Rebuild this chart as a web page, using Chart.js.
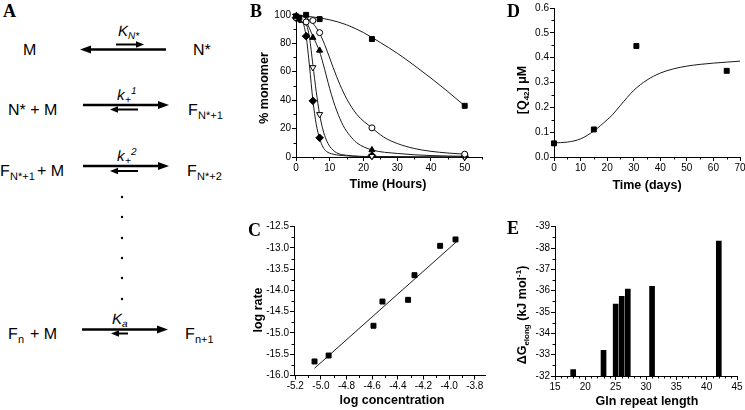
<!DOCTYPE html>
<html><head><meta charset="utf-8">
<script src="https://cdn.jsdelivr.net/npm/chart.js@4/dist/chart.umd.min.js"></script>
<style>
html,body{margin:0;padding:0;background:#fff;}
#root{position:relative;width:745px;height:410px;overflow:hidden;background:#fff;font-family:"Liberation Sans",Arial,sans-serif;}
canvas{position:absolute;}
.ttl{position:absolute;font-weight:bold;font-size:12.5px;white-space:nowrap;transform:translate(-50%,-50%);color:#000;line-height:1;z-index:5;}
.rot{transform:translate(-50%,-50%) rotate(-90deg);}
.ttl sub{font-size:8px;vertical-align:-3px;line-height:0;}
.ttl sup{font-size:8px;vertical-align:5px;line-height:0;}
.lbl{position:absolute;font-family:"Liberation Serif","Times New Roman",serif;font-weight:bold;font-size:18px;line-height:1;z-index:5;color:#000;}
svg{position:absolute;left:0;top:0;}
svg text{fill:#000;}
</style></head>
<body><div id="root">
<svg width="240" height="410" viewBox="0 0 240 410" font-family="Liberation Sans, Arial, sans-serif" fill="#000" text-rendering="geometricPrecision">
  <!-- row 1 -->
  <text x="23" y="55" font-size="16">M</text>
  <text x="193" y="55" font-size="16">N*</text>
  <line x1="88" y1="49.5" x2="166" y2="49.5" stroke="#000" stroke-width="2.5"/>
  <polygon points="80,49.5 91,45.5 91,53.5"/>
  <line x1="116" y1="44.5" x2="137" y2="44.5" stroke="#000" stroke-width="2"/>
  <polygon points="144,44.5 136,41.3 136,47.7"/>
  <text x="118" y="36" font-size="15" font-style="italic">K</text>
  <text x="128" y="39" font-size="10" font-style="italic">N*</text>
  <!-- row 2 -->
  <text x="8" y="115" font-size="16">N* + M</text>
  <line x1="83" y1="105" x2="161" y2="105" stroke="#000" stroke-width="2.5"/>
  <polygon points="169,105 158,101 158,109"/>
  <line x1="117" y1="109.5" x2="138" y2="109.5" stroke="#000" stroke-width="2"/>
  <polygon points="110,109.5 118,106.3 118,112.7"/>
  <text x="117" y="100" font-size="15" font-style="italic">k</text>
  <text x="125" y="103" font-size="10" font-style="italic">+</text>
  <text x="131" y="94" font-size="10" font-style="italic">1</text>
  <text x="188" y="115" font-size="16">F</text>
  <text x="198" y="119" font-size="11">N*+1</text>
  <!-- row 3 -->
  <text x="0" y="176" font-size="16">F</text>
  <text x="10" y="180" font-size="11">N*+1</text>
  <text x="37" y="176" font-size="16">+ M</text>
  <line x1="83" y1="166" x2="161" y2="166" stroke="#000" stroke-width="2.5"/>
  <polygon points="169,166 158,162 158,170"/>
  <line x1="117" y1="171" x2="138" y2="171" stroke="#000" stroke-width="2"/>
  <polygon points="110,171 118,167.8 118,174.2"/>
  <text x="117" y="161" font-size="15" font-style="italic">k</text>
  <text x="125" y="164" font-size="10" font-style="italic">+</text>
  <text x="131" y="155" font-size="10" font-style="italic">2</text>
  <text x="187" y="176" font-size="16">F</text>
  <text x="197" y="180" font-size="11">N*+2</text>
  <!-- dots -->
  <circle cx="122" cy="197" r="1.2"/>
  <circle cx="122" cy="217" r="1.2"/>
  <circle cx="122" cy="238" r="1.2"/>
  <circle cx="122" cy="258" r="1.2"/>
  <circle cx="122" cy="278" r="1.2"/>
  <circle cx="122" cy="299" r="1.2"/>
  <!-- row 4 -->
  <text x="8" y="339" font-size="16">F</text>
  <text x="18" y="343" font-size="11">n</text>
  <text x="30" y="339" font-size="16">+ M</text>
  <line x1="82" y1="329.5" x2="160" y2="329.5" stroke="#000" stroke-width="2.5"/>
  <polygon points="168,329.5 157,325.5 157,333.5"/>
  <line x1="118" y1="333.5" x2="128" y2="333.5" stroke="#000" stroke-width="2"/>
  <polygon points="111,333.5 119,330.3 119,336.7"/>
  <text x="112" y="324" font-size="15" font-style="italic">K</text>
  <text x="122" y="327" font-size="10" font-style="italic">a</text>
  <text x="185" y="339" font-size="16">F</text>
  <text x="195" y="343" font-size="11">n+1</text>
</svg>
<div class="lbl" style="left:3px;top:2px;">A</div>
<div class="lbl" style="left:250px;top:2px;">B</div>
<div class="lbl" style="left:507px;top:2px;">D</div>
<div class="lbl" style="left:248px;top:221px;">C</div>
<div class="lbl" style="left:507px;top:219px;">E</div>

<canvas id="cB" width="250" height="200" style="left:240px;top:0px;"></canvas>
<canvas id="cD" width="255" height="200" style="left:490px;top:0px;"></canvas>
<canvas id="cC" width="250" height="210" style="left:240px;top:200px;"></canvas>
<canvas id="cE" width="255" height="210" style="left:490px;top:200px;"></canvas>

<div class="ttl" style="left:388px;top:184px;">Time (Hours)</div>
<div class="ttl rot" style="left:264px;top:88px;">% monomer</div>
<div class="ttl" style="left:647px;top:185px;">Time (days)</div>
<div class="ttl rot" style="left:522px;top:90px;">[Q<sub>42</sub>] μM</div>
<div class="ttl" style="left:392px;top:400px;">log concentration</div>
<div class="ttl rot" style="left:258px;top:310px;">log rate</div>
<div class="ttl" style="left:647px;top:401px;">Gln repeat length</div>
<div class="ttl rot" style="left:522px;top:315px;">ΔG<sub>elong</sub> (kJ mol<sup>-1</sup>)</div>
</div>
<script>
// ---------- Panel B data: % monomer vs time (hours) ----------
const bSqT   = [0, 1, 3, 7, 22.5, 50];
const bSqV   = [99, 98, 100, 97, 83, 36];
const bCircT = [0, 2, 3, 5, 7, 22.5, 50];
const bCircV = [98, 97, 95, 96, 87.5, 20.5, 2];
const bTriT  = [0, 2, 5, 7, 22.5, 50];
const bTriV  = [99, 96, 84, 75, 5, 1];
const bInvT  = [0, 1, 3, 5, 7, 22.5, 50];
const bInvV  = [99, 98, 95, 63, 30, 0.5, 0];
const bDiaT  = [0, 1, 3, 5, 7, 22.5, 50];
const bDiaV  = [98, 97, 85, 39.5, 13.5, 1, 0.5];
// fitted curves
const fSqT   = [0, 5, 10, 15, 20, 25, 30, 35, 40, 45, 50];
const fSqV   = [99.5, 98.5, 96.5, 93, 87.5, 80.5, 73, 64.5, 55.5, 46, 36];
const fCircT = [0, 3, 5, 7, 9, 11, 13, 15, 18, 22.5, 26, 30, 35, 40, 45, 50];
const fCircV = [99.5, 98, 94, 87, 76, 63, 51, 41, 30, 20.5, 14, 9.5, 6, 4, 2.8, 2];
const fTriT  = [0, 3, 5, 7, 8, 9, 10, 11, 12, 14, 16, 18, 22.5, 30, 40, 50];
const fTriV  = [99.5, 95, 85, 74, 66, 57, 48, 40, 33, 22, 15, 10, 5, 2.5, 1, 0.5];
const fInvT  = [0, 2, 3, 4, 5, 6, 7, 8, 9, 10, 12, 15, 22.5, 50];
const fInvV  = [99.5, 97.5, 94, 84, 65, 46, 30, 19, 12, 7.5, 3, 1.2, 0.3, 0];
const fDiaT  = [0, 2, 3, 4, 5, 6, 7, 8, 9, 11, 15, 22.5, 50];
const fDiaV  = [99.5, 95, 85, 64, 40, 23, 13, 7, 4, 2, 0.8, 0.3, 0];
const bXTicks = [0, 10, 20, 30, 40, 50];
const bXMinor = [5, 15, 25, 35, 45, 55];
const bYTicks = [0, 20, 40, 60, 80, 100];
const bYMinor = [10, 30, 50, 70, 90];

// ---------- Panel C data: log rate vs log concentration ----------
const cLogConc = [-5.05, -4.94, -4.59, -4.52, -4.32, -4.27, -4.07, -3.95];
const cLogRate = [-15.67, -15.53, -14.83, -14.26, -14.22, -13.64, -12.95, -12.80];
const cFitX = [-5.05, -3.93];
const cFitY = [-15.83, -12.82];
const cXTicks = [-5.2, -5.0, -4.8, -4.6, -4.4, -4.2, -4.0, -3.8];
const cXMinor = [-5.1, -4.9, -4.7, -4.5, -4.3, -4.1, -3.9];
const cYTicks = [-12.5, -13.0, -13.5, -14.0, -14.5, -15.0, -15.5, -16.0];
const cYMinor = [-12.75, -13.25, -13.75, -14.25, -14.75, -15.25, -15.75];

// ---------- Panel D data: [Q42] vs time (days) ----------
const dDays = [0, 15, 31, 65];
const dConc = [0.055, 0.111, 0.447, 0.347];
const dFitT = [0, 5, 10, 15, 20, 22, 25, 30, 35, 40, 45, 50, 55, 60, 65, 70];
const dFitV = [0.057, 0.06, 0.073, 0.105, 0.15, 0.17, 0.208, 0.268, 0.31, 0.338, 0.355, 0.366, 0.373, 0.378, 0.382, 0.386];
const dXTicks = [0, 10, 20, 30, 40, 50, 60, 70];
const dXMinor = [5, 15, 25, 35, 45, 55, 65];
const dYTicks = [0, 0.1, 0.2, 0.3, 0.4, 0.5, 0.6];
const dYMinor = [0.05, 0.15, 0.25, 0.35, 0.45, 0.55];

// ---------- Panel E data: ΔG elong vs Gln repeat length ----------
const eLength = [18, 23, 25, 26, 27, 31, 42];
const eDeltaG = [-32.3, -33.2, -35.37, -35.73, -36.07, -36.2, -38.33];
const eBase = -32;
const eXTicks = [15, 20, 25, 30, 35, 40, 45];
const eXMinor = [16,17,18,19,21,22,23,24,26,27,28,29,31,32,33,34,36,37,38,39,41,42,43,44];
const eYTicks = [-32, -33, -34, -35, -36, -37, -38, -39];
const eYMinor = [-32.5, -33.5, -34.5, -35.5, -36.5, -37.5, -38.5];

// ---------------------------------------------------------------
const FONT = {family: '"Liberation Sans", Arial, sans-serif', size: 10};
const pts = (xs, ys) => xs.map((x, i) => ({x, y: ys[i]}));

const minorTicks = {
  id: 'minorTicks',
  afterDraw(chart, args, o) {
    const ctx = chart.ctx, xs = chart.scales.x, ys = chart.scales.y;
    ctx.save(); ctx.strokeStyle = '#000'; ctx.lineWidth = 1;
    (o.x || []).forEach(v => {
      const p = Math.round(xs.getPixelForValue(v)) + 0.5;
      ctx.beginPath(); ctx.moveTo(p, xs.top); ctx.lineTo(p, xs.top + 2.5); ctx.stroke();
    });
    (o.y || []).forEach(v => {
      const p = Math.round(ys.getPixelForValue(v)) + 0.5;
      ctx.beginPath(); ctx.moveTo(ys.right, p); ctx.lineTo(ys.right - 2.5, p); ctx.stroke();
    });
    ctx.restore();
  }
};

function axis(min, max, majors, fmt, fitSize, isX, reverse) {
  return {
    type: 'linear', min, max, reverse: !!reverse, offset: false,
    grid: {display: true, drawOnChartArea: false, drawTicks: true, tickLength: 4, color: '#000', lineWidth: 1, offset: false},
    border: {display: true, color: '#000', width: 1},
    ticks: {color: '#000', font: FONT, padding: 1, autoSkip: false, maxRotation: 0, callback: v => fmt(v)},
    afterBuildTicks: s => { s.ticks = majors.map(v => ({value: v})); },
    afterFit: s => {
      if (isX) { s.height = fitSize; s.paddingLeft = 0; s.paddingRight = 0; }
      else { s.width = fitSize; s.paddingTop = 0; s.paddingBottom = 0; }
    }
  };
}

function base(pad, scales, minor) {
  return {
    responsive: false, animation: false, events: [],
    layout: {padding: pad},
    plugins: {legend: {display: false}, tooltip: {enabled: false}, minorTicks: minor},
    scales
  };
}

const LINE = '#1a1a1a';
function fit(xs, ys) {
  return {type: 'line', data: pts(xs, ys), showLine: true, borderColor: LINE, borderWidth: 1,
    pointRadius: 0, cubicInterpolationMode: 'monotone', fill: false, clip: false, order: 2};
}
function marks(xs, ys, style, fillC, r, rot) {
  return {type: 'scatter', data: pts(xs, ys), pointStyle: style, pointRadius: r, pointRotation: rot || 0,
    pointBackgroundColor: fillC, pointBorderColor: '#000', pointBorderWidth: 1, showLine: false, clip: false, order: 1};
}

// Panel B
new Chart(document.getElementById('cB'), {
  type: 'scatter',
  data: {datasets: [
    fit(fSqT, fSqV), fit(fCircT, fCircV), fit(fTriT, fTriV), fit(fInvT, fInvV), fit(fDiaT, fDiaV),
    marks(bSqT, bSqV, 'rect', '#000', 3.5),
    marks(bCircT, bCircV, 'circle', '#fff', 3),
    marks(bTriT, bTriV, 'triangle', '#000', 3.5),
    marks(bInvT, bInvV, 'triangle', '#fff', 3.5, 180),
    marks(bDiaT, bDiaV, 'rectRot', '#000', 3.8)
  ]},
  plugins: [minorTicks],
  options: base({top: 12, right: 8.4, left: 0, bottom: 0}, {
    x: axis(0, 55, bXTicks, v => String(v), 43, true),
    y: axis(0, 102, bYTicks, v => String(v), 56, false)
  }, {x: bXMinor, y: bYMinor})
});

// Panel D
new Chart(document.getElementById('cD'), {
  type: 'scatter',
  data: {datasets: [ fit(dFitT, dFitV), marks(dDays, dConc, 'rect', '#000', 3.5) ]},
  plugins: [minorTicks],
  options: base({top: 8, right: 4, left: 0, bottom: 0}, {
    x: axis(0, 70, dXTicks, v => String(v), 43, true),
    y: axis(0, 0.6, dYTicks, v => v.toFixed(1), 64, false)
  }, {x: dXMinor, y: dYMinor})
});

// Panel C
new Chart(document.getElementById('cC'), {
  type: 'scatter',
  data: {datasets: [ {...fit(cFitX, cFitY), cubicInterpolationMode: 'default', tension: 0}, marks(cLogConc, cLogRate, 'rect', '#000', 3.5) ]},
  plugins: [minorTicks],
  options: base({top: 26.7, right: 4.6, left: 0, bottom: 0}, {
    x: axis(-5.21, -3.72, cXTicks, v => v.toFixed(1), 34.5, true),
    y: axis(-16, -12.5, cYTicks, v => v.toFixed(1), 54, false)
  }, {x: cXMinor, y: cYMinor})
});

// Panel E
new Chart(document.getElementById('cE'), {
  type: 'bar',
  data: {datasets: [{
    data: eLength.map((x, i) => ({x, y: [eBase, eDeltaG[i]]})),
    backgroundColor: '#000', borderWidth: 0, barThickness: 5, borderSkipped: false
  }]},
  plugins: [minorTicks],
  options: base({top: 26.7, right: 8, left: 0, bottom: 0}, {
    x: axis(15, 45, eXTicks, v => String(v), 34, true),
    y: axis(-39, -32, eYTicks, v => String(v), 65, false, true)
  }, {x: eXMinor, y: eYMinor})
});
</script>
</body></html>
